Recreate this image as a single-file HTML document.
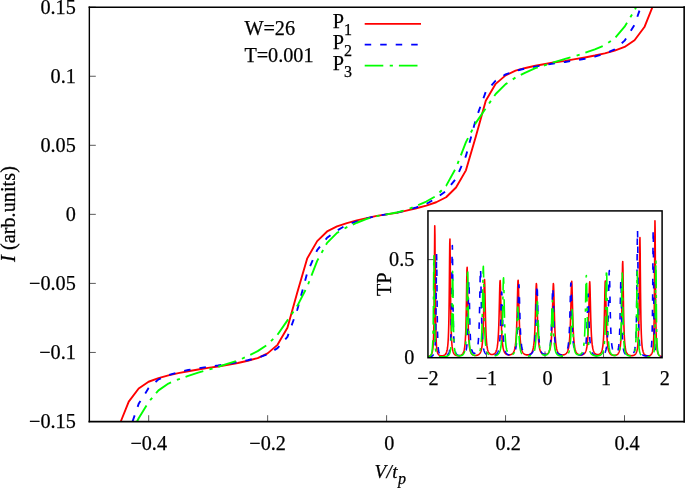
<!DOCTYPE html><html><head><meta charset="utf-8"><title>IV</title><style>html,body{margin:0;padding:0;background:#fff}svg{display:block;will-change:transform}text{font-family:"Liberation Serif",serif;font-size:20.2px;fill:#000;stroke:#000;stroke-width:0.25px}</style></head><body>
<svg width="685" height="488" viewBox="0 0 685 488">
<rect x="0" y="0" width="685" height="488" fill="#fff"/>
<defs><clipPath id="cm"><rect x="89.20" y="7.20" width="594.90" height="414.30"/></clipPath><clipPath id="ci"><rect x="427.95" y="210.90" width="234.15" height="146.80"/></clipPath></defs>
<line x1="89.20" y1="7.20" x2="95.80" y2="7.20" stroke="#000" stroke-width="0.65"/>
<text x="75.80" y="13.90" text-anchor="end" >0.15</text>
<line x1="89.20" y1="76.25" x2="95.80" y2="76.25" stroke="#000" stroke-width="0.65"/>
<text x="75.80" y="82.95" text-anchor="end" >0.1</text>
<line x1="89.20" y1="145.30" x2="95.80" y2="145.30" stroke="#000" stroke-width="0.65"/>
<text x="75.80" y="152.00" text-anchor="end" >0.05</text>
<line x1="89.20" y1="214.35" x2="95.80" y2="214.35" stroke="#000" stroke-width="0.65"/>
<text x="75.80" y="221.05" text-anchor="end" >0</text>
<line x1="89.20" y1="283.40" x2="95.80" y2="283.40" stroke="#000" stroke-width="0.65"/>
<text x="75.80" y="290.10" text-anchor="end" >−0.05</text>
<line x1="89.20" y1="352.45" x2="95.80" y2="352.45" stroke="#000" stroke-width="0.65"/>
<text x="75.80" y="359.15" text-anchor="end" >−0.1</text>
<line x1="89.20" y1="421.50" x2="95.80" y2="421.50" stroke="#000" stroke-width="0.65"/>
<text x="75.80" y="428.20" text-anchor="end" >−0.15</text>
<line x1="148.70" y1="421.50" x2="148.70" y2="415.20" stroke="#000" stroke-width="0.65"/>
<text x="148.70" y="449.50" text-anchor="middle" >−0.4</text>
<line x1="267.65" y1="421.50" x2="267.65" y2="415.20" stroke="#000" stroke-width="0.65"/>
<text x="267.65" y="449.50" text-anchor="middle" >−0.2</text>
<line x1="386.60" y1="421.50" x2="386.60" y2="415.20" stroke="#000" stroke-width="0.65"/>
<text x="389.20" y="449.50" text-anchor="middle" >0</text>
<line x1="505.55" y1="421.50" x2="505.55" y2="415.20" stroke="#000" stroke-width="0.65"/>
<text x="508.15" y="449.50" text-anchor="middle" >0.2</text>
<line x1="624.50" y1="421.50" x2="624.50" y2="415.20" stroke="#000" stroke-width="0.65"/>
<text x="627.10" y="449.50" text-anchor="middle" >0.4</text>
<g clip-path="url(#cm)" fill="none" stroke-width="1.90" stroke-linejoin="round">
<path d="M120.79,421.50 L128.76,401.65 L138.68,388.45 L148.59,381.75 L158.51,378.15 L168.43,375.35 L178.34,373.15 L188.26,371.25 L198.18,369.55 L208.09,367.85 L218.01,366.45 L227.93,364.75 L237.85,362.95 L247.76,360.75 L257.68,358.05 L267.60,353.35 L277.51,344.85 L287.43,327.85 L297.35,292.15 L307.26,258.35 L317.18,241.15 L327.10,231.45 L337.02,226.45 L346.93,223.15 L356.85,220.45 L366.77,218.05 L376.68,215.85 L386.60,214.35 L396.52,212.85 L406.43,210.65 L416.35,208.25 L426.27,205.55 L436.19,202.25 L446.10,197.25 L456.02,187.55 L465.94,170.35 L475.85,136.55 L485.77,100.85 L495.69,83.85 L505.60,75.35 L515.52,70.65 L525.44,67.95 L535.36,65.75 L545.27,63.95 L555.19,62.25 L565.11,60.85 L575.02,59.15 L584.94,57.45 L594.86,55.55 L604.77,53.35 L614.69,50.55 L624.61,46.95 L634.52,40.25 L644.44,27.05 L652.41,7.20" stroke="#ff0000"/>
<path d="M132.53,421.50 L138.68,403.85 L148.59,388.05 L158.51,379.35 L168.43,375.15 L178.34,372.15 L188.26,369.95 L198.18,368.35 L208.09,366.75 L218.01,365.45 L227.93,363.85 L237.85,362.05 L247.76,360.25 L257.68,357.85 L267.60,354.35 L277.51,348.15 L287.43,336.85 L297.35,309.55 L307.26,272.75 L317.18,250.05 L327.10,237.75 L337.02,230.55 L346.93,224.75 L356.85,221.35 L366.77,218.35 L376.68,215.95 L386.60,214.35 L396.52,212.75 L406.43,210.35 L416.35,207.35 L426.27,203.95 L436.19,198.15 L446.10,190.95 L456.02,178.65 L465.94,155.95 L475.85,119.15 L485.77,91.85 L495.69,80.55 L505.60,74.35 L515.52,70.85 L525.44,68.45 L535.36,66.65 L545.27,64.85 L555.19,63.25 L565.11,61.95 L575.02,60.35 L584.94,58.75 L594.86,56.55 L604.77,53.55 L614.69,49.35 L624.61,40.65 L634.52,24.85 L640.67,7.20" stroke="#0000ff" stroke-dasharray="6.5 9.025"/>
<path d="M137.07,421.50 L138.68,418.25 L148.59,402.05 L158.51,390.35 L168.43,383.55 L178.34,379.35 L188.26,375.85 L198.18,372.65 L208.09,369.85 L218.01,366.85 L227.93,363.65 L237.85,360.55 L247.76,356.15 L257.68,351.15 L267.60,344.55 L277.51,334.75 L287.43,320.35 L297.35,305.85 L307.26,286.55 L317.18,260.85 L327.10,242.85 L337.02,232.85 L346.93,227.15 L356.85,222.75 L366.77,218.85 L376.68,216.15 L386.60,214.35 L396.52,212.55 L406.43,209.85 L416.35,205.95 L426.27,201.55 L436.19,195.85 L446.10,185.85 L456.02,167.85 L465.94,142.15 L475.85,122.85 L485.77,108.35 L495.69,93.95 L505.60,84.15 L515.52,77.55 L525.44,72.55 L535.36,68.15 L545.27,65.05 L555.19,61.85 L565.11,58.85 L575.02,56.05 L584.94,52.85 L594.86,49.35 L604.77,45.15 L614.69,38.35 L624.61,26.65 L634.52,10.45 L636.13,7.20" stroke="#00ff00" stroke-dasharray="18.6 6.4 3.2 6"/>
</g>
<rect x="427.95" y="210.90" width="234.15" height="146.80" fill="#fff"/>
<line x1="486.46" y1="357.70" x2="486.46" y2="351.40" stroke="#000" stroke-width="0.65"/>
<line x1="545.00" y1="357.70" x2="545.00" y2="351.40" stroke="#000" stroke-width="0.65"/>
<line x1="603.54" y1="357.70" x2="603.54" y2="351.40" stroke="#000" stroke-width="0.65"/>
<line x1="427.95" y1="259.60" x2="433.95" y2="259.60" stroke="#000" stroke-width="0.65"/>
<text x="427.92" y="385.00" text-anchor="middle" >−2</text>
<text x="486.46" y="385.00" text-anchor="middle" >−1</text>
<text x="547.60" y="385.00" text-anchor="middle" >0</text>
<text x="606.14" y="385.00" text-anchor="middle" >1</text>
<text x="664.68" y="385.00" text-anchor="middle" >2</text>
<text x="414.30" y="266.30" text-anchor="end" >0.5</text>
<text x="414.30" y="364.00" text-anchor="end" >0</text>
<g clip-path="url(#ci)" fill="none" stroke-width="1.6" stroke-linejoin="round">
<path d="M427.95,356.69 L428.15,356.64 L428.35,356.59 L428.55,356.53 L428.75,356.47 L428.95,356.40 L429.15,356.32 L429.35,356.23 L429.55,356.14 L429.75,356.03 L429.95,355.91 L430.15,355.77 L430.35,355.62 L430.55,355.45 L430.75,355.25 L430.95,355.02 L431.15,354.75 L431.35,354.44 L431.55,354.07 L431.75,353.63 L431.95,353.10 L432.15,352.45 L432.35,351.64 L432.55,350.63 L432.75,349.32 L432.95,347.62 L433.15,345.34 L433.35,342.20 L433.55,337.74 L433.75,331.17 L433.95,321.15 L434.15,305.48 L434.35,281.37 L434.55,249.43 L434.75,225.70 L434.95,234.68 L435.15,265.87 L435.35,294.58 L435.55,314.14 L435.75,326.63 L435.95,334.69 L436.15,340.06 L436.35,343.78 L436.55,346.43 L436.75,348.37 L436.95,349.84 L437.15,350.96 L437.35,351.85 L437.55,352.55 L437.75,353.12 L437.95,353.58 L438.15,353.97 L438.35,354.29 L438.55,354.55 L438.75,354.78 L438.95,354.97 L439.15,355.13 L439.35,355.27 L439.55,355.39 L439.75,355.49 L439.95,355.57 L440.15,355.64 L440.35,355.70 L440.55,355.75 L440.75,355.79 L440.95,355.82 L441.15,355.84 L441.35,355.86 L441.55,355.87 L441.75,355.87 L441.95,355.86 L442.15,355.85 L442.35,355.83 L442.55,355.80 L442.75,355.77 L442.95,355.73 L443.15,355.68 L443.35,355.62 L443.55,355.56 L443.75,355.48 L443.95,355.40 L444.15,355.30 L444.35,355.19 L444.55,355.06 L444.75,354.92 L444.95,354.75 L445.15,354.57 L445.35,354.36 L445.55,354.11 L445.75,353.83 L445.95,353.51 L446.15,353.13 L446.35,352.69 L446.55,352.17 L446.75,351.56 L446.95,350.82 L447.15,349.92 L447.35,348.83 L447.55,347.48 L447.75,345.78 L447.95,343.60 L448.15,340.78 L448.35,337.04 L448.55,331.99 L448.75,325.05 L448.95,315.36 L449.15,301.86 L449.35,283.71 L449.55,262.12 L449.75,243.58 L449.95,238.96 L450.15,251.79 L450.35,273.09 L450.55,293.36 L450.75,309.14 L450.95,320.59 L451.15,328.78 L451.35,334.68 L451.55,339.01 L451.75,342.24 L451.95,344.71 L452.15,346.63 L452.35,348.14 L452.55,349.35 L452.75,350.33 L452.95,351.14 L453.15,351.80 L453.35,352.36 L453.55,352.84 L453.75,353.24 L453.95,353.59 L454.15,353.88 L454.35,354.14 L454.55,354.36 L454.75,354.56 L454.95,354.73 L455.15,354.88 L455.35,355.01 L455.55,355.12 L455.75,355.23 L455.95,355.31 L456.15,355.39 L456.35,355.46 L456.55,355.52 L456.75,355.57 L456.95,355.61 L457.15,355.65 L457.35,355.68 L457.55,355.70 L457.75,355.72 L457.95,355.73 L458.15,355.74 L458.35,355.74 L458.55,355.74 L458.75,355.73 L458.95,355.71 L459.15,355.69 L459.35,355.66 L459.55,355.63 L459.75,355.59 L459.95,355.55 L460.15,355.50 L460.35,355.44 L460.55,355.37 L460.75,355.29 L460.95,355.20 L461.15,355.10 L461.35,354.99 L461.55,354.87 L461.75,354.72 L461.95,354.56 L462.15,354.38 L462.35,354.17 L462.55,353.94 L462.75,353.67 L462.95,353.37 L463.15,353.01 L463.35,352.60 L463.55,352.13 L463.75,351.57 L463.95,350.91 L464.15,350.12 L464.35,349.17 L464.55,348.02 L464.75,346.61 L464.95,344.86 L465.15,342.65 L465.35,339.84 L465.55,336.21 L465.75,331.46 L465.95,325.21 L466.15,316.98 L466.35,306.38 L466.55,293.53 L466.75,280.00 L466.95,269.65 L467.15,267.24 L467.35,274.10 L467.55,286.65 L467.75,300.17 L467.95,311.97 L468.15,321.34 L468.35,328.52 L468.55,333.96 L468.75,338.10 L468.95,341.29 L469.15,343.77 L469.35,345.73 L469.55,347.29 L469.75,348.56 L469.95,349.59 L470.15,350.45 L470.35,351.17 L470.55,351.77 L470.75,352.28 L470.95,352.72 L471.15,353.09 L471.35,353.41 L471.55,353.69 L471.75,353.94 L471.95,354.15 L472.15,354.34 L472.35,354.50 L472.55,354.65 L472.75,354.77 L472.95,354.88 L473.15,354.98 L473.35,355.07 L473.55,355.14 L473.75,355.21 L473.95,355.26 L474.15,355.31 L474.35,355.35 L474.55,355.38 L474.75,355.41 L474.95,355.43 L475.15,355.44 L475.35,355.45 L475.55,355.45 L475.75,355.45 L475.95,355.44 L476.15,355.42 L476.35,355.40 L476.55,355.37 L476.75,355.33 L476.95,355.29 L477.15,355.24 L477.35,355.19 L477.55,355.12 L477.75,355.05 L477.95,354.97 L478.15,354.87 L478.35,354.77 L478.55,354.65 L478.75,354.51 L478.95,354.36 L479.15,354.20 L479.35,354.01 L479.55,353.79 L479.75,353.55 L479.95,353.28 L480.15,352.97 L480.35,352.61 L480.55,352.20 L480.75,351.73 L480.95,351.18 L481.15,350.54 L481.35,349.79 L481.55,348.90 L481.75,347.84 L481.95,346.56 L482.15,345.01 L482.35,343.11 L482.55,340.76 L482.75,337.82 L482.95,334.11 L483.15,329.43 L483.35,323.52 L483.55,316.15 L483.75,307.28 L483.95,297.38 L484.15,287.83 L484.35,281.07 L484.55,279.56 L484.75,283.92 L484.95,292.40 L485.15,302.36 L485.35,311.84 L485.55,319.97 L485.75,326.57 L485.95,331.83 L486.15,335.98 L486.35,339.26 L486.55,341.88 L486.75,343.98 L486.95,345.68 L487.15,347.07 L487.35,348.22 L487.55,349.18 L487.75,349.98 L487.95,350.66 L488.15,351.23 L488.35,351.73 L488.55,352.15 L488.75,352.51 L488.95,352.83 L489.15,353.10 L489.35,353.34 L489.55,353.55 L489.75,353.73 L489.95,353.88 L490.15,354.02 L490.35,354.13 L490.55,354.23 L490.75,354.31 L490.95,354.38 L491.15,354.44 L491.35,354.49 L491.55,354.52 L491.75,354.54 L491.95,354.55 L492.15,354.55 L492.35,354.54 L492.55,354.52 L492.75,354.49 L492.95,354.45 L493.15,354.39 L493.35,354.33 L493.55,354.25 L493.75,354.15 L493.95,354.05 L494.15,353.92 L494.35,353.78 L494.55,353.62 L494.75,353.44 L494.95,353.23 L495.15,352.99 L495.35,352.71 L495.55,352.41 L495.75,352.05 L495.95,351.65 L496.15,351.18 L496.35,350.64 L496.55,350.01 L496.75,349.28 L496.95,348.43 L497.15,347.42 L497.35,346.22 L497.55,344.78 L497.75,343.04 L497.95,340.93 L498.15,338.34 L498.35,335.16 L498.55,331.21 L498.75,326.32 L498.95,320.31 L499.15,313.05 L499.35,304.66 L499.55,295.70 L499.75,287.45 L499.95,281.82 L500.15,280.58 L500.35,284.18 L500.55,291.38 L500.75,300.20 L500.95,308.99 L501.15,316.85 L501.35,323.48 L501.55,328.91 L501.75,333.31 L501.95,336.85 L502.15,339.72 L502.35,342.06 L502.55,343.98 L502.75,345.56 L502.95,346.87 L503.15,347.98 L503.35,348.91 L503.55,349.70 L503.75,350.38 L503.95,350.97 L504.15,351.47 L504.35,351.91 L504.55,352.30 L504.75,352.63 L504.95,352.93 L505.15,353.19 L505.35,353.42 L505.55,353.63 L505.75,353.81 L505.95,353.97 L506.15,354.11 L506.35,354.24 L506.55,354.35 L506.75,354.45 L506.95,354.54 L507.15,354.62 L507.35,354.68 L507.55,354.74 L507.75,354.79 L507.95,354.83 L508.15,354.86 L508.35,354.89 L508.55,354.90 L508.75,354.91 L508.95,354.92 L509.15,354.91 L509.35,354.91 L509.55,354.89 L509.75,354.86 L509.95,354.83 L510.15,354.79 L510.35,354.75 L510.55,354.69 L510.75,354.63 L510.95,354.56 L511.15,354.47 L511.35,354.38 L511.55,354.27 L511.75,354.15 L511.95,354.02 L512.15,353.86 L512.35,353.69 L512.55,353.50 L512.75,353.29 L512.95,353.05 L513.15,352.78 L513.35,352.47 L513.55,352.13 L513.75,351.73 L513.95,351.28 L514.15,350.77 L514.35,350.18 L514.55,349.50 L514.75,348.70 L514.95,347.78 L515.15,346.68 L515.35,345.39 L515.55,343.85 L515.75,342.00 L515.95,339.75 L516.15,337.03 L516.35,333.69 L516.55,329.58 L516.75,324.56 L516.95,318.46 L517.15,311.21 L517.35,302.98 L517.55,294.36 L517.75,286.57 L517.95,281.35 L518.15,280.21 L518.35,283.53 L518.55,290.26 L518.75,298.66 L518.95,307.19 L519.15,314.97 L519.35,321.65 L519.55,327.20 L519.75,331.74 L519.95,335.44 L520.15,338.45 L520.35,340.92 L520.55,342.96 L520.75,344.65 L520.95,346.06 L521.15,347.25 L521.35,348.25 L521.55,349.11 L521.75,349.84 L521.95,350.48 L522.15,351.03 L522.35,351.51 L522.55,351.93 L522.75,352.30 L522.95,352.62 L523.15,352.91 L523.35,353.17 L523.55,353.39 L523.75,353.59 L523.95,353.77 L524.15,353.93 L524.35,354.08 L524.55,354.20 L524.75,354.32 L524.95,354.42 L525.15,354.51 L525.35,354.59 L525.55,354.66 L525.75,354.72 L525.95,354.77 L526.15,354.81 L526.35,354.85 L526.55,354.88 L526.75,354.90 L526.95,354.91 L527.15,354.92 L527.35,354.92 L527.55,354.92 L527.75,354.91 L527.95,354.89 L528.15,354.87 L528.35,354.83 L528.55,354.79 L528.75,354.75 L528.95,354.69 L529.15,354.63 L529.35,354.55 L529.55,354.47 L529.75,354.37 L529.95,354.27 L530.15,354.15 L530.35,354.01 L530.55,353.86 L530.75,353.69 L530.95,353.50 L531.15,353.28 L531.35,353.04 L531.55,352.76 L531.75,352.45 L531.95,352.10 L532.15,351.70 L532.35,351.24 L532.55,350.72 L532.75,350.11 L532.95,349.41 L533.15,348.59 L533.35,347.63 L533.55,346.50 L533.75,345.15 L533.95,343.54 L534.15,341.60 L534.35,339.24 L534.55,336.36 L534.75,332.82 L534.95,328.49 L535.15,323.19 L535.35,316.82 L535.55,309.39 L535.75,301.24 L535.95,293.23 L536.15,286.80 L536.35,283.63 L536.55,284.72 L536.75,289.71 L536.95,297.13 L537.15,305.36 L537.35,313.21 L537.55,320.13 L537.75,325.95 L537.95,330.74 L538.15,334.65 L538.35,337.84 L538.55,340.44 L538.75,342.58 L538.95,344.34 L539.15,345.81 L539.35,347.04 L539.55,348.08 L539.75,348.96 L539.95,349.72 L540.15,350.36 L540.35,350.92 L540.55,351.41 L540.75,351.83 L540.95,352.20 L541.15,352.53 L541.35,352.81 L541.55,353.06 L541.75,353.29 L541.95,353.48 L542.15,353.66 L542.35,353.81 L542.55,353.95 L542.75,354.07 L542.95,354.17 L543.15,354.26 L543.35,354.34 L543.55,354.41 L543.75,354.47 L543.95,354.51 L544.15,354.55 L544.35,354.58 L544.55,354.60 L544.75,354.61 L544.95,354.61 L545.15,354.60 L545.35,354.59 L545.55,354.56 L545.75,354.53 L545.95,354.49 L546.15,354.44 L546.35,354.38 L546.55,354.30 L546.75,354.22 L546.95,354.12 L547.15,354.01 L547.35,353.88 L547.55,353.74 L547.75,353.57 L547.95,353.39 L548.15,353.18 L548.35,352.94 L548.55,352.67 L548.75,352.37 L548.95,352.02 L549.15,351.63 L549.35,351.18 L549.55,350.65 L549.75,350.05 L549.95,349.36 L550.15,348.54 L550.35,347.58 L550.55,346.46 L550.75,345.11 L550.95,343.50 L551.15,341.56 L551.35,339.21 L551.55,336.33 L551.75,332.80 L551.95,328.47 L552.15,323.18 L552.35,316.81 L552.55,309.38 L552.75,301.24 L552.95,293.23 L553.15,286.80 L553.35,283.64 L553.55,284.73 L553.75,289.71 L553.95,297.15 L554.15,305.37 L554.35,313.23 L554.55,320.15 L554.75,325.97 L554.95,330.77 L555.15,334.69 L555.35,337.87 L555.55,340.48 L555.75,342.62 L555.95,344.39 L556.15,345.86 L556.35,347.09 L556.55,348.14 L556.75,349.02 L556.95,349.78 L557.15,350.43 L557.35,351.00 L557.55,351.49 L557.75,351.91 L557.95,352.29 L558.15,352.62 L558.35,352.91 L558.55,353.17 L558.75,353.40 L558.95,353.60 L559.15,353.78 L559.35,353.95 L559.55,354.09 L559.75,354.22 L559.95,354.33 L560.15,354.43 L560.35,354.52 L560.55,354.60 L560.75,354.67 L560.95,354.73 L561.15,354.78 L561.35,354.83 L561.55,354.86 L561.75,354.89 L561.95,354.92 L562.15,354.93 L562.35,354.94 L562.55,354.94 L562.75,354.94 L562.95,354.93 L563.15,354.91 L563.35,354.88 L563.55,354.85 L563.75,354.81 L563.95,354.77 L564.15,354.71 L564.35,354.65 L564.55,354.58 L564.75,354.50 L564.95,354.40 L565.15,354.30 L565.35,354.18 L565.55,354.05 L565.75,353.90 L565.95,353.73 L566.15,353.54 L566.35,353.33 L566.55,353.10 L566.75,352.83 L566.95,352.53 L567.15,352.19 L567.35,351.80 L567.55,351.36 L567.75,350.85 L567.95,350.27 L568.15,349.60 L568.35,348.82 L568.55,347.90 L568.75,346.83 L568.95,345.55 L569.15,344.03 L569.35,342.21 L569.55,340.00 L569.75,337.31 L569.95,334.02 L570.15,329.98 L570.35,325.02 L570.55,319.01 L570.75,311.87 L570.95,303.75 L571.15,295.26 L571.35,287.58 L571.55,282.43 L571.75,281.31 L571.95,284.58 L572.15,291.22 L572.35,299.49 L572.55,307.91 L572.75,315.58 L572.95,322.16 L573.15,327.63 L573.35,332.10 L573.55,335.75 L573.75,338.73 L573.95,341.16 L574.15,343.17 L574.35,344.83 L574.55,346.22 L574.75,347.40 L574.95,348.39 L575.15,349.23 L575.35,349.96 L575.55,350.58 L575.75,351.13 L575.95,351.60 L576.15,352.01 L576.35,352.38 L576.55,352.70 L576.75,352.98 L576.95,353.23 L577.15,353.46 L577.35,353.65 L577.55,353.83 L577.75,353.99 L577.95,354.13 L578.15,354.26 L578.35,354.37 L578.55,354.47 L578.75,354.56 L578.95,354.63 L579.15,354.70 L579.35,354.76 L579.55,354.81 L579.75,354.85 L579.95,354.89 L580.15,354.91 L580.35,354.93 L580.55,354.95 L580.75,354.95 L580.95,354.95 L581.15,354.95 L581.35,354.93 L581.55,354.91 L581.75,354.88 L581.95,354.85 L582.15,354.80 L582.35,354.75 L582.55,354.69 L582.75,354.62 L582.95,354.54 L583.15,354.45 L583.35,354.35 L583.55,354.23 L583.75,354.10 L583.95,353.95 L584.15,353.78 L584.35,353.59 L584.55,353.38 L584.75,353.13 L584.95,352.86 L585.15,352.55 L585.35,352.20 L585.55,351.79 L585.75,351.33 L585.95,350.80 L586.15,350.18 L586.35,349.46 L586.55,348.61 L586.75,347.61 L586.95,346.43 L587.15,345.01 L587.35,343.30 L587.55,341.23 L587.75,338.68 L587.95,335.55 L588.15,331.67 L588.35,326.86 L588.55,320.94 L588.75,313.81 L588.95,305.56 L589.15,296.75 L589.35,288.64 L589.55,283.10 L589.75,281.89 L589.95,285.42 L590.15,292.49 L590.35,301.16 L590.55,309.80 L590.75,317.52 L590.95,324.04 L591.15,329.38 L591.35,333.70 L591.55,337.18 L591.75,340.00 L591.95,342.30 L592.15,344.18 L592.35,345.73 L592.55,347.02 L592.75,348.10 L592.95,349.01 L593.15,349.79 L593.35,350.45 L593.55,351.02 L593.75,351.52 L593.95,351.94 L594.15,352.32 L594.35,352.64 L594.55,352.93 L594.75,353.18 L594.95,353.40 L595.15,353.59 L595.35,353.76 L595.55,353.91 L595.75,354.04 L595.95,354.15 L596.15,354.25 L596.35,354.34 L596.55,354.41 L596.75,354.47 L596.95,354.51 L597.15,354.55 L597.35,354.57 L597.55,354.59 L597.75,354.59 L597.95,354.59 L598.15,354.57 L598.35,354.55 L598.55,354.51 L598.75,354.46 L598.95,354.40 L599.15,354.32 L599.35,354.23 L599.55,354.13 L599.75,354.00 L599.95,353.86 L600.15,353.70 L600.35,353.51 L600.55,353.29 L600.75,353.04 L600.95,352.75 L601.15,352.42 L601.35,352.03 L601.55,351.58 L601.75,351.06 L601.95,350.45 L602.15,349.73 L602.35,348.87 L602.55,347.84 L602.75,346.60 L602.95,345.09 L603.15,343.23 L603.35,340.93 L603.55,338.06 L603.75,334.43 L603.95,329.85 L604.15,324.05 L604.35,316.83 L604.55,308.13 L604.75,298.41 L604.95,289.05 L605.15,282.43 L605.35,280.95 L605.55,285.24 L605.75,293.58 L605.95,303.37 L606.15,312.69 L606.35,320.68 L606.55,327.18 L606.75,332.35 L606.95,336.44 L607.15,339.67 L607.35,342.25 L607.55,344.33 L607.75,346.01 L607.95,347.39 L608.15,348.53 L608.35,349.48 L608.55,350.29 L608.75,350.96 L608.95,351.54 L609.15,352.04 L609.35,352.47 L609.55,352.85 L609.75,353.17 L609.95,353.46 L610.15,353.71 L610.35,353.93 L610.55,354.13 L610.75,354.30 L610.95,354.46 L611.15,354.59 L611.35,354.72 L611.55,354.82 L611.75,354.92 L611.95,355.01 L612.15,355.08 L612.35,355.15 L612.55,355.20 L612.75,355.25 L612.95,355.30 L613.15,355.33 L613.35,355.36 L613.55,355.38 L613.75,355.40 L613.95,355.41 L614.15,355.41 L614.35,355.41 L614.55,355.40 L614.75,355.39 L614.95,355.37 L615.15,355.34 L615.35,355.31 L615.55,355.27 L615.75,355.22 L615.95,355.16 L616.15,355.09 L616.35,355.02 L616.55,354.93 L616.75,354.83 L616.95,354.72 L617.15,354.59 L617.35,354.44 L617.55,354.28 L617.75,354.09 L617.95,353.88 L618.15,353.63 L618.35,353.35 L618.55,353.03 L618.75,352.66 L618.95,352.23 L619.15,351.73 L619.35,351.14 L619.55,350.44 L619.75,349.60 L619.95,348.60 L620.15,347.38 L620.35,345.89 L620.55,344.02 L620.75,341.68 L620.95,338.69 L621.15,334.83 L621.35,329.79 L621.55,323.13 L621.75,314.38 L621.95,303.10 L622.15,289.43 L622.35,275.03 L622.55,264.03 L622.75,261.47 L622.95,268.77 L623.15,282.13 L623.35,296.53 L623.55,309.09 L623.75,319.08 L623.95,326.72 L624.15,332.51 L624.35,336.93 L624.55,340.32 L624.75,342.97 L624.95,345.06 L625.15,346.73 L625.35,348.08 L625.55,349.19 L625.75,350.11 L625.95,350.88 L626.15,351.53 L626.35,352.08 L626.55,352.55 L626.75,352.95 L626.95,353.30 L627.15,353.61 L627.35,353.87 L627.55,354.11 L627.75,354.31 L627.95,354.49 L628.15,354.66 L628.35,354.80 L628.55,354.93 L628.75,355.04 L628.95,355.14 L629.15,355.23 L629.35,355.31 L629.55,355.37 L629.75,355.44 L629.95,355.49 L630.15,355.53 L630.35,355.57 L630.55,355.61 L630.75,355.63 L630.95,355.65 L631.15,355.67 L631.35,355.68 L631.55,355.68 L631.75,355.68 L631.95,355.67 L632.15,355.66 L632.35,355.64 L632.55,355.61 L632.75,355.58 L632.95,355.54 L633.15,355.49 L633.35,355.44 L633.55,355.38 L633.75,355.30 L633.95,355.22 L634.15,355.13 L634.35,355.02 L634.55,354.89 L634.75,354.75 L634.95,354.59 L635.15,354.41 L635.35,354.20 L635.55,353.96 L635.75,353.68 L635.95,353.36 L636.15,352.98 L636.35,352.54 L636.55,352.02 L636.75,351.40 L636.95,350.66 L637.15,349.76 L637.35,348.66 L637.55,347.30 L637.75,345.58 L637.95,343.39 L638.15,340.54 L638.35,336.77 L638.55,331.67 L638.75,324.65 L638.95,314.86 L639.15,301.22 L639.35,282.88 L639.55,261.06 L639.75,242.31 L639.95,237.65 L640.15,250.63 L640.35,272.16 L640.55,292.65 L640.75,308.61 L640.95,320.19 L641.15,328.48 L641.35,334.45 L641.55,338.83 L641.75,342.11 L641.95,344.60 L642.15,346.54 L642.35,348.08 L642.55,349.30 L642.75,350.30 L642.95,351.12 L643.15,351.80 L643.35,352.37 L643.55,352.86 L643.75,353.27 L643.95,353.62 L644.15,353.92 L644.35,354.19 L644.55,354.42 L644.75,354.62 L644.95,354.79 L645.15,354.95 L645.35,355.08 L645.55,355.20 L645.75,355.31 L645.95,355.40 L646.15,355.48 L646.35,355.55 L646.55,355.62 L646.75,355.67 L646.95,355.71 L647.15,355.75 L647.35,355.78 L647.55,355.80 L647.75,355.81 L647.95,355.82 L648.15,355.82 L648.35,355.82 L648.55,355.81 L648.75,355.79 L648.95,355.76 L649.15,355.72 L649.35,355.67 L649.55,355.62 L649.75,355.55 L649.95,355.47 L650.15,355.37 L650.35,355.26 L650.55,355.13 L650.75,354.97 L650.95,354.79 L651.15,354.57 L651.35,354.32 L651.55,354.02 L651.75,353.65 L651.95,353.22 L652.15,352.69 L652.35,352.03 L652.55,351.21 L652.75,350.18 L652.95,348.85 L653.15,347.10 L653.35,344.76 L653.55,341.52 L653.75,336.91 L653.95,330.11 L654.15,319.74 L654.35,303.51 L654.55,278.52 L654.75,245.42 L654.95,220.84 L655.15,230.16 L655.35,262.52 L655.55,292.31 L655.75,312.60 L655.95,325.57 L656.15,333.94 L656.35,339.54 L656.55,343.40 L656.75,346.17 L656.95,348.20 L657.15,349.74 L657.35,350.93 L657.55,351.86 L657.75,352.61 L657.95,353.22 L658.15,353.72 L658.35,354.14 L658.55,354.49 L658.75,354.79 L658.95,355.05 L659.15,355.27 L659.35,355.47 L659.55,355.63 L659.75,355.78 L659.95,355.91 L660.15,356.03 L660.35,356.14 L660.55,356.23 L660.75,356.32 L660.95,356.39 L661.15,356.46 L661.35,356.53 L661.55,356.58 L661.75,356.64 L661.95,356.69" stroke="#ff0000"/>
<path d="M427.95,357.11 L428.15,357.09 L428.35,357.07 L428.55,357.05 L428.75,357.02 L428.95,356.99 L429.15,356.97 L429.35,356.93 L429.55,356.90 L429.75,356.86 L429.95,356.83 L430.15,356.78 L430.35,356.74 L430.55,356.68 L430.75,356.63 L430.95,356.57 L431.15,356.50 L431.35,356.42 L431.55,356.34 L431.75,356.24 L431.95,356.14 L432.15,356.01 L432.35,355.88 L432.55,355.72 L432.75,355.54 L432.95,355.32 L433.15,355.08 L433.35,354.78 L433.55,354.44 L433.75,354.01 L433.95,353.50 L434.15,352.86 L434.35,352.06 L434.55,351.03 L434.75,349.69 L434.95,347.89 L435.15,345.41 L435.35,341.88 L435.55,336.69 L435.75,328.77 L435.95,316.40 L436.15,297.35 L436.35,272.12 L436.55,253.38 L436.75,260.47 L436.95,285.11 L437.15,307.78 L437.35,323.23 L437.55,333.09 L437.75,339.46 L437.95,343.71 L438.15,346.64 L438.35,348.73 L438.55,350.27 L438.75,351.42 L438.95,352.31 L439.15,353.01 L439.35,353.57 L439.55,354.02 L439.75,354.38 L439.95,354.68 L440.15,354.93 L440.35,355.14 L440.55,355.32 L440.75,355.47 L440.95,355.60 L441.15,355.71 L441.35,355.80 L441.55,355.88 L441.75,355.94 L441.95,356.00 L442.15,356.04 L442.35,356.08 L442.55,356.11 L442.75,356.14 L442.95,356.16 L443.15,356.17 L443.35,356.17 L443.55,356.18 L443.75,356.17 L443.95,356.16 L444.15,356.15 L444.35,356.13 L444.55,356.11 L444.75,356.08 L444.95,356.04 L445.15,356.00 L445.35,355.95 L445.55,355.90 L445.75,355.84 L445.95,355.77 L446.15,355.69 L446.35,355.60 L446.55,355.51 L446.75,355.39 L446.95,355.27 L447.15,355.13 L447.35,354.97 L447.55,354.79 L447.75,354.59 L447.95,354.35 L448.15,354.08 L448.35,353.77 L448.55,353.41 L448.75,353.00 L448.95,352.50 L449.15,351.92 L449.35,351.22 L449.55,350.37 L449.75,349.33 L449.95,348.05 L450.15,346.44 L450.35,344.38 L450.55,341.71 L450.75,338.18 L450.95,333.40 L451.15,326.84 L451.35,317.68 L451.55,304.91 L451.75,287.75 L451.95,267.34 L452.15,249.81 L452.35,245.45 L452.55,257.58 L452.75,277.71 L452.95,296.86 L453.15,311.78 L453.35,322.60 L453.55,330.34 L453.75,335.91 L453.95,340.00 L454.15,343.06 L454.35,345.39 L454.55,347.20 L454.75,348.63 L454.95,349.77 L455.15,350.70 L455.35,351.46 L455.55,352.09 L455.75,352.61 L455.95,353.06 L456.15,353.44 L456.35,353.76 L456.55,354.04 L456.75,354.28 L456.95,354.49 L457.15,354.67 L457.35,354.83 L457.55,354.97 L457.75,355.09 L457.95,355.19 L458.15,355.29 L458.35,355.37 L458.55,355.44 L458.75,355.50 L458.95,355.55 L459.15,355.59 L459.35,355.63 L459.55,355.66 L459.75,355.68 L459.95,355.70 L460.15,355.71 L460.35,355.72 L460.55,355.72 L460.75,355.71 L460.95,355.70 L461.15,355.68 L461.35,355.66 L461.55,355.63 L461.75,355.59 L461.95,355.55 L462.15,355.50 L462.35,355.45 L462.55,355.38 L462.75,355.31 L462.95,355.22 L463.15,355.13 L463.35,355.02 L463.55,354.90 L463.75,354.76 L463.95,354.60 L464.15,354.42 L464.35,354.22 L464.55,353.99 L464.75,353.72 L464.95,353.42 L465.15,353.07 L465.35,352.66 L465.55,352.17 L465.75,351.60 L465.95,350.93 L466.15,350.11 L466.35,349.13 L466.55,347.92 L466.75,346.42 L466.95,344.53 L467.15,342.13 L467.35,339.03 L467.55,334.98 L467.75,329.64 L467.95,322.63 L468.15,313.59 L468.35,302.64 L468.55,291.10 L468.75,282.28 L468.95,280.21 L469.15,286.04 L469.35,296.70 L469.55,308.19 L469.75,318.21 L469.95,326.17 L470.15,332.26 L470.35,336.86 L470.55,340.36 L470.75,343.04 L470.95,345.12 L471.15,346.76 L471.35,348.05 L471.55,349.09 L471.75,349.94 L471.95,350.62 L472.15,351.18 L472.35,351.64 L472.55,352.02 L472.75,352.33 L472.95,352.59 L473.15,352.79 L473.35,352.95 L473.55,353.08 L473.75,353.17 L473.95,353.23 L474.15,353.25 L474.35,353.25 L474.55,353.23 L474.75,353.17 L474.95,353.09 L475.15,352.98 L475.35,352.83 L475.55,352.65 L475.75,352.44 L475.95,352.18 L476.15,351.88 L476.35,351.52 L476.55,351.09 L476.75,350.60 L476.95,350.01 L477.15,349.32 L477.35,348.49 L477.55,347.51 L477.75,346.33 L477.95,344.90 L478.15,343.16 L478.35,341.02 L478.55,338.37 L478.75,335.04 L478.95,330.85 L479.15,325.55 L479.35,318.83 L479.55,310.47 L479.75,300.39 L479.95,289.14 L480.15,278.29 L480.35,270.62 L480.55,268.91 L480.75,273.89 L480.95,283.56 L481.15,294.92 L481.35,305.72 L481.55,314.98 L481.75,322.52 L481.95,328.52 L482.15,333.26 L482.35,337.01 L482.55,340.01 L482.75,342.42 L482.95,344.37 L483.15,345.98 L483.35,347.30 L483.55,348.41 L483.75,349.35 L483.95,350.14 L484.15,350.82 L484.35,351.40 L484.55,351.91 L484.75,352.35 L484.95,352.73 L485.15,353.07 L485.35,353.37 L485.55,353.63 L485.75,353.87 L485.95,354.08 L486.15,354.27 L486.35,354.44 L486.55,354.59 L486.75,354.73 L486.95,354.86 L487.15,354.97 L487.35,355.07 L487.55,355.16 L487.75,355.25 L487.95,355.32 L488.15,355.39 L488.35,355.45 L488.55,355.51 L488.75,355.56 L488.95,355.61 L489.15,355.65 L489.35,355.68 L489.55,355.71 L489.75,355.74 L489.95,355.77 L490.15,355.79 L490.35,355.81 L490.55,355.82 L490.75,355.83 L490.95,355.84 L491.15,355.84 L491.35,355.84 L491.55,355.84 L491.75,355.83 L491.95,355.82 L492.15,355.81 L492.35,355.80 L492.55,355.78 L492.75,355.76 L492.95,355.73 L493.15,355.70 L493.35,355.66 L493.55,355.62 L493.75,355.58 L493.95,355.53 L494.15,355.47 L494.35,355.41 L494.55,355.35 L494.75,355.27 L494.95,355.19 L495.15,355.09 L495.35,354.99 L495.55,354.88 L495.75,354.75 L495.95,354.61 L496.15,354.46 L496.35,354.28 L496.55,354.09 L496.75,353.87 L496.95,353.63 L497.15,353.35 L497.35,353.04 L497.55,352.68 L497.75,352.27 L497.95,351.80 L498.15,351.26 L498.35,350.63 L498.55,349.89 L498.75,349.02 L498.95,347.99 L499.15,346.75 L499.35,345.27 L499.55,343.46 L499.75,341.25 L499.95,338.53 L500.15,335.16 L500.35,330.99 L500.55,325.86 L500.75,319.67 L500.95,312.52 L501.15,304.87 L501.35,297.83 L501.55,293.03 L501.75,291.98 L501.95,295.03 L502.15,301.17 L502.35,308.68 L502.55,316.16 L502.75,322.85 L502.95,328.50 L503.15,333.12 L503.35,336.86 L503.55,339.88 L503.75,342.32 L503.95,344.31 L504.15,345.94 L504.35,347.28 L504.55,348.40 L504.75,349.33 L504.95,350.12 L505.15,350.79 L505.35,351.37 L505.55,351.86 L505.75,352.28 L505.95,352.65 L506.15,352.97 L506.35,353.26 L506.55,353.50 L506.75,353.72 L506.95,353.91 L507.15,354.08 L507.35,354.22 L507.55,354.35 L507.75,354.47 L507.95,354.57 L508.15,354.65 L508.35,354.73 L508.55,354.79 L508.75,354.85 L508.95,354.89 L509.15,354.93 L509.35,354.96 L509.55,354.98 L509.75,354.99 L509.95,354.99 L510.15,354.99 L510.35,354.98 L510.55,354.97 L510.75,354.94 L510.95,354.91 L511.15,354.87 L511.35,354.82 L511.55,354.77 L511.75,354.70 L511.95,354.62 L512.15,354.54 L512.35,354.44 L512.55,354.33 L512.75,354.20 L512.95,354.06 L513.15,353.90 L513.35,353.73 L513.55,353.53 L513.75,353.30 L513.95,353.05 L514.15,352.76 L514.35,352.43 L514.55,352.06 L514.75,351.64 L514.95,351.16 L515.15,350.60 L515.35,349.96 L515.55,349.21 L515.75,348.34 L515.95,347.31 L516.15,346.09 L516.35,344.64 L516.55,342.90 L516.75,340.79 L516.95,338.22 L517.15,335.07 L517.35,331.21 L517.55,326.48 L517.75,320.74 L517.95,313.92 L518.15,306.17 L518.35,298.05 L518.55,290.72 L518.75,285.80 L518.95,284.73 L519.15,287.85 L519.35,294.19 L519.55,302.09 L519.75,310.13 L519.95,317.45 L520.15,323.73 L520.35,328.96 L520.55,333.23 L520.75,336.71 L520.95,339.55 L521.15,341.88 L521.35,343.79 L521.55,345.38 L521.75,346.71 L521.95,347.82 L522.15,348.77 L522.35,349.58 L522.55,350.27 L522.75,350.86 L522.95,351.38 L523.15,351.83 L523.35,352.22 L523.55,352.57 L523.75,352.87 L523.95,353.14 L524.15,353.38 L524.35,353.59 L524.55,353.78 L524.75,353.95 L524.95,354.10 L525.15,354.23 L525.35,354.35 L525.55,354.45 L525.75,354.54 L525.95,354.62 L526.15,354.69 L526.35,354.76 L526.55,354.81 L526.75,354.85 L526.95,354.89 L527.15,354.92 L527.35,354.94 L527.55,354.96 L527.75,354.97 L527.95,354.97 L528.15,354.97 L528.35,354.96 L528.55,354.94 L528.75,354.91 L528.95,354.88 L529.15,354.84 L529.35,354.80 L529.55,354.74 L529.75,354.68 L529.95,354.60 L530.15,354.52 L530.35,354.43 L530.55,354.32 L530.75,354.20 L530.95,354.07 L531.15,353.92 L531.35,353.75 L531.55,353.56 L531.75,353.34 L531.95,353.10 L532.15,352.83 L532.35,352.53 L532.55,352.18 L532.75,351.78 L532.95,351.33 L533.15,350.81 L533.35,350.21 L533.55,349.52 L533.75,348.71 L533.95,347.76 L534.15,346.64 L534.35,345.32 L534.55,343.72 L534.75,341.81 L534.95,339.48 L535.15,336.64 L535.35,333.15 L535.55,328.87 L535.75,323.65 L535.95,317.36 L536.15,310.03 L536.35,301.99 L536.55,294.09 L536.75,287.75 L536.95,284.62 L537.15,285.69 L537.35,290.60 L537.55,297.93 L537.75,306.04 L537.95,313.79 L538.15,320.60 L538.35,326.34 L538.55,331.07 L538.75,334.92 L538.95,338.06 L539.15,340.63 L539.35,342.73 L539.55,344.47 L539.75,345.91 L539.95,347.12 L540.15,348.14 L540.35,349.01 L540.55,349.75 L540.75,350.38 L540.95,350.93 L541.15,351.40 L541.35,351.81 L541.55,352.17 L541.75,352.49 L541.95,352.76 L542.15,353.00 L542.35,353.22 L542.55,353.40 L542.75,353.56 L542.95,353.71 L543.15,353.83 L543.35,353.94 L543.55,354.03 L543.75,354.10 L543.95,354.17 L544.15,354.22 L544.35,354.26 L544.55,354.28 L544.75,354.30 L544.95,354.31 L545.15,354.30 L545.35,354.28 L545.55,354.26 L545.75,354.22 L545.95,354.17 L546.15,354.10 L546.35,354.03 L546.55,353.93 L546.75,353.83 L546.95,353.70 L547.15,353.56 L547.35,353.39 L547.55,353.20 L547.75,352.99 L547.95,352.74 L548.15,352.46 L548.35,352.14 L548.55,351.77 L548.75,351.35 L548.95,350.86 L549.15,350.30 L549.35,349.64 L549.55,348.87 L549.75,347.97 L549.95,346.90 L550.15,345.63 L550.35,344.10 L550.55,342.27 L550.75,340.03 L550.95,337.31 L551.15,333.96 L551.35,329.85 L551.55,324.82 L551.75,318.78 L551.95,311.73 L552.15,304.00 L552.35,296.40 L552.55,290.30 L552.75,287.29 L552.95,288.33 L553.15,293.07 L553.35,300.13 L553.55,307.94 L553.75,315.40 L553.95,321.97 L554.15,327.50 L554.35,332.06 L554.55,335.78 L554.75,338.81 L554.95,341.28 L555.15,343.31 L555.35,344.99 L555.55,346.39 L555.75,347.57 L555.95,348.56 L556.15,349.40 L556.35,350.12 L556.55,350.74 L556.75,351.27 L556.95,351.74 L557.15,352.15 L557.35,352.50 L557.55,352.82 L557.75,353.09 L557.95,353.34 L558.15,353.55 L558.35,353.75 L558.55,353.92 L558.75,354.07 L558.95,354.21 L559.15,354.33 L559.35,354.43 L559.55,354.53 L559.75,354.61 L559.95,354.69 L560.15,354.75 L560.35,354.81 L560.55,354.85 L560.75,354.89 L560.95,354.92 L561.15,354.95 L561.35,354.97 L561.55,354.98 L561.75,354.98 L561.95,354.98 L562.15,354.97 L562.35,354.96 L562.55,354.93 L562.75,354.91 L562.95,354.87 L563.15,354.82 L563.35,354.77 L563.55,354.71 L563.75,354.64 L563.95,354.56 L564.15,354.47 L564.35,354.37 L564.55,354.26 L564.75,354.13 L564.95,353.98 L565.15,353.82 L565.35,353.64 L565.55,353.43 L565.75,353.20 L565.95,352.94 L566.15,352.65 L566.35,352.31 L566.55,351.94 L566.75,351.50 L566.95,351.01 L567.15,350.44 L567.35,349.78 L567.55,349.02 L567.75,348.12 L567.95,347.07 L568.15,345.82 L568.35,344.34 L568.55,342.55 L568.75,340.39 L568.95,337.76 L569.15,334.53 L569.35,330.58 L569.55,325.73 L569.75,319.84 L569.95,312.85 L570.15,304.91 L570.35,296.60 L570.55,289.09 L570.75,284.05 L570.95,282.95 L571.15,286.15 L571.35,292.65 L571.55,300.75 L571.75,308.99 L571.95,316.49 L572.15,322.93 L572.35,328.29 L572.55,332.67 L572.75,336.24 L572.95,339.15 L573.15,341.54 L573.35,343.50 L573.55,345.13 L573.75,346.49 L573.95,347.64 L574.15,348.61 L574.35,349.44 L574.55,350.15 L574.75,350.76 L574.95,351.29 L575.15,351.76 L575.35,352.16 L575.55,352.52 L575.75,352.83 L575.95,353.11 L576.15,353.35 L576.35,353.57 L576.55,353.77 L576.75,353.94 L576.95,354.09 L577.15,354.23 L577.35,354.35 L577.55,354.46 L577.75,354.56 L577.95,354.64 L578.15,354.72 L578.35,354.78 L578.55,354.84 L578.75,354.88 L578.95,354.92 L579.15,354.95 L579.35,354.98 L579.55,354.99 L579.75,355.00 L579.95,355.00 L580.15,355.00 L580.35,354.98 L580.55,354.96 L580.75,354.93 L580.95,354.89 L581.15,354.85 L581.35,354.79 L581.55,354.73 L581.75,354.65 L581.95,354.56 L582.15,354.46 L582.35,354.34 L582.55,354.21 L582.75,354.06 L582.95,353.89 L583.15,353.69 L583.35,353.47 L583.55,353.22 L583.75,352.93 L583.95,352.59 L584.15,352.21 L584.35,351.77 L584.55,351.25 L584.75,350.65 L584.95,349.95 L585.15,349.12 L585.35,348.13 L585.55,346.94 L585.75,345.51 L585.95,343.77 L586.15,341.64 L586.35,339.01 L586.55,335.75 L586.75,331.72 L586.95,326.75 L587.15,320.77 L587.35,313.84 L587.55,306.44 L587.75,299.63 L587.95,294.98 L588.15,293.97 L588.35,296.94 L588.55,302.89 L588.75,310.18 L588.95,317.44 L589.15,323.94 L589.35,329.42 L589.55,333.91 L589.75,337.54 L589.95,340.48 L590.15,342.86 L590.35,344.79 L590.55,346.38 L590.75,347.69 L590.95,348.78 L591.15,349.70 L591.35,350.47 L591.55,351.13 L591.75,351.70 L591.95,352.19 L592.15,352.62 L592.35,352.99 L592.55,353.31 L592.75,353.60 L592.95,353.85 L593.15,354.07 L593.35,354.27 L593.55,354.45 L593.75,354.61 L593.95,354.75 L594.15,354.88 L594.35,355.00 L594.55,355.10 L594.75,355.19 L594.95,355.28 L595.15,355.36 L595.35,355.43 L595.55,355.49 L595.75,355.54 L595.95,355.59 L596.15,355.64 L596.35,355.68 L596.55,355.72 L596.75,355.75 L596.95,355.77 L597.15,355.80 L597.35,355.82 L597.55,355.83 L597.75,355.85 L597.95,355.86 L598.15,355.86 L598.35,355.87 L598.55,355.87 L598.75,355.87 L598.95,355.86 L599.15,355.85 L599.35,355.84 L599.55,355.82 L599.75,355.80 L599.95,355.78 L600.15,355.76 L600.35,355.73 L600.55,355.69 L600.75,355.65 L600.95,355.61 L601.15,355.56 L601.35,355.51 L601.55,355.45 L601.75,355.39 L601.95,355.32 L602.15,355.24 L602.35,355.15 L602.55,355.06 L602.75,354.95 L602.95,354.84 L603.15,354.71 L603.35,354.57 L603.55,354.41 L603.75,354.23 L603.95,354.04 L604.15,353.82 L604.35,353.57 L604.55,353.29 L604.75,352.98 L604.95,352.63 L605.15,352.22 L605.35,351.76 L605.55,351.23 L605.75,350.61 L605.95,349.89 L606.15,349.05 L606.35,348.05 L606.55,346.86 L606.75,345.43 L606.95,343.70 L607.15,341.57 L607.35,338.94 L607.55,335.66 L607.75,331.52 L607.95,326.29 L608.15,319.69 L608.35,311.46 L608.55,301.55 L608.75,290.50 L608.95,279.84 L609.15,272.29 L609.35,270.59 L609.55,275.45 L609.75,284.92 L609.95,296.03 L610.15,306.61 L610.35,315.67 L610.55,323.03 L610.75,328.89 L610.95,333.52 L611.15,337.17 L611.35,340.08 L611.55,342.42 L611.75,344.31 L611.95,345.85 L612.15,347.12 L612.35,348.17 L612.55,349.05 L612.75,349.79 L612.95,350.42 L613.15,350.94 L613.35,351.39 L613.55,351.77 L613.75,352.10 L613.95,352.37 L614.15,352.60 L614.35,352.79 L614.55,352.95 L614.75,353.07 L614.95,353.16 L615.15,353.23 L615.35,353.26 L615.55,353.27 L615.75,353.25 L615.95,353.21 L616.15,353.13 L616.35,353.02 L616.55,352.88 L616.75,352.69 L616.95,352.46 L617.15,352.17 L617.35,351.83 L617.55,351.40 L617.75,350.89 L617.95,350.27 L618.15,349.50 L618.35,348.56 L618.55,347.39 L618.75,345.93 L618.95,344.08 L619.15,341.70 L619.35,338.63 L619.55,334.59 L619.75,329.27 L619.95,322.26 L620.15,313.21 L620.35,302.23 L620.55,290.68 L620.75,281.85 L620.95,279.80 L621.15,285.69 L621.35,296.45 L621.55,308.03 L621.75,318.15 L621.95,326.19 L622.15,332.34 L622.35,337.01 L622.55,340.57 L622.75,343.31 L622.95,345.44 L623.15,347.13 L623.35,348.48 L623.55,349.57 L623.75,350.47 L623.95,351.21 L624.15,351.84 L624.35,352.36 L624.55,352.80 L624.75,353.19 L624.95,353.51 L625.15,353.80 L625.35,354.04 L625.55,354.26 L625.75,354.45 L625.95,354.61 L626.15,354.76 L626.35,354.89 L626.55,355.00 L626.75,355.10 L626.95,355.19 L627.15,355.27 L627.35,355.33 L627.55,355.39 L627.75,355.44 L627.95,355.48 L628.15,355.52 L628.35,355.55 L628.55,355.57 L628.75,355.59 L628.95,355.59 L629.15,355.60 L629.35,355.60 L629.55,355.59 L629.75,355.57 L629.95,355.55 L630.15,355.53 L630.35,355.49 L630.55,355.45 L630.75,355.40 L630.95,355.34 L631.15,355.28 L631.35,355.20 L631.55,355.11 L631.75,355.01 L631.95,354.89 L632.15,354.76 L632.35,354.61 L632.55,354.44 L632.75,354.25 L632.95,354.02 L633.15,353.77 L633.35,353.47 L633.55,353.13 L633.75,352.73 L633.95,352.26 L634.15,351.71 L634.35,351.05 L634.55,350.27 L634.75,349.31 L634.95,348.15 L635.15,346.70 L635.35,344.88 L635.55,342.55 L635.75,339.52 L635.95,335.52 L636.15,330.11 L636.35,322.66 L636.55,312.27 L636.75,297.78 L636.95,278.31 L637.15,255.15 L637.35,235.25 L637.55,230.30 L637.75,244.08 L637.95,266.94 L638.15,288.70 L638.35,305.64 L638.55,317.94 L638.75,326.73 L638.95,333.07 L639.15,337.72 L639.35,341.20 L639.55,343.86 L639.75,345.92 L639.95,347.55 L640.15,348.85 L640.35,349.91 L640.55,350.78 L640.75,351.51 L640.95,352.12 L641.15,352.63 L641.35,353.07 L641.55,353.45 L641.75,353.77 L641.95,354.06 L642.15,354.30 L642.35,354.52 L642.55,354.71 L642.75,354.88 L642.95,355.03 L643.15,355.16 L643.35,355.28 L643.55,355.38 L643.75,355.47 L643.95,355.55 L644.15,355.62 L644.35,355.69 L644.55,355.74 L644.75,355.79 L644.95,355.83 L645.15,355.87 L645.35,355.89 L645.55,355.92 L645.75,355.93 L645.95,355.94 L646.15,355.95 L646.35,355.94 L646.55,355.94 L646.75,355.92 L646.95,355.90 L647.15,355.87 L647.35,355.83 L647.55,355.79 L647.75,355.74 L647.95,355.67 L648.15,355.59 L648.35,355.50 L648.55,355.40 L648.75,355.27 L648.95,355.12 L649.15,354.95 L649.35,354.75 L649.55,354.51 L649.75,354.23 L649.95,353.89 L650.15,353.48 L650.35,352.98 L650.55,352.37 L650.75,351.60 L650.95,350.63 L651.15,349.38 L651.35,347.75 L651.55,345.55 L651.75,342.51 L651.95,338.18 L652.15,331.81 L652.35,322.09 L652.55,306.88 L652.75,283.45 L652.95,252.41 L653.15,229.37 L653.35,238.11 L653.55,268.45 L653.75,296.37 L653.95,315.40 L654.15,327.56 L654.35,335.41 L654.55,340.65 L654.75,344.28 L654.95,346.87 L655.15,348.78 L655.35,350.22 L655.55,351.33 L655.75,352.21 L655.95,352.91 L656.15,353.49 L656.35,353.96 L656.55,354.35 L656.75,354.68 L656.95,354.96 L657.15,355.20 L657.35,355.41 L657.55,355.59 L657.75,355.75 L657.95,355.89 L658.15,356.01 L658.35,356.12 L658.55,356.22 L658.75,356.31 L658.95,356.39 L659.15,356.46 L659.35,356.52 L659.55,356.58 L659.75,356.64 L659.95,356.69 L660.15,356.73 L660.35,356.78 L660.55,356.82 L660.75,356.85 L660.95,356.89 L661.15,356.92 L661.35,356.95 L661.55,356.97 L661.75,357.00 L661.95,357.02" stroke="#0000ff" stroke-dasharray="6.5 9"/>
<path d="M427.95,356.88 L428.15,356.83 L428.35,356.78 L428.55,356.72 L428.75,356.65 L428.95,356.58 L429.15,356.50 L429.35,356.40 L429.55,356.30 L429.75,356.17 L429.95,356.03 L430.15,355.87 L430.35,355.68 L430.55,355.46 L430.75,355.19 L430.95,354.87 L431.15,354.49 L431.35,354.01 L431.55,353.41 L431.75,352.65 L431.95,351.66 L432.15,350.34 L432.35,348.54 L432.55,346.01 L432.75,342.31 L432.95,336.67 L433.15,327.72 L433.35,313.16 L433.55,290.45 L433.75,263.78 L433.95,255.68 L434.15,276.64 L434.35,302.87 L434.55,321.31 L434.75,332.70 L434.95,339.76 L435.15,344.30 L435.35,347.34 L435.55,349.46 L435.75,350.99 L435.95,352.12 L436.15,352.98 L436.35,353.65 L436.55,354.17 L436.75,354.60 L436.95,354.94 L437.15,355.22 L437.35,355.46 L437.55,355.66 L437.75,355.82 L437.95,355.97 L438.15,356.09 L438.35,356.20 L438.55,356.29 L438.75,356.37 L438.95,356.44 L439.15,356.50 L439.35,356.55 L439.55,356.60 L439.75,356.64 L439.95,356.67 L440.15,356.70 L440.35,356.73 L440.55,356.75 L440.75,356.77 L440.95,356.79 L441.15,356.81 L441.35,356.82 L441.55,356.83 L441.75,356.83 L441.95,356.84 L442.15,356.84 L442.35,356.84 L442.55,356.84 L442.75,356.84 L442.95,356.84 L443.15,356.83 L443.35,356.82 L443.55,356.81 L443.75,356.80 L443.95,356.79 L444.15,356.77 L444.35,356.75 L444.55,356.73 L444.75,356.71 L444.95,356.68 L445.15,356.65 L445.35,356.62 L445.55,356.58 L445.75,356.55 L445.95,356.50 L446.15,356.45 L446.35,356.40 L446.55,356.34 L446.75,356.28 L446.95,356.20 L447.15,356.12 L447.35,356.03 L447.55,355.93 L447.75,355.82 L447.95,355.69 L448.15,355.54 L448.35,355.37 L448.55,355.18 L448.75,354.96 L448.95,354.70 L449.15,354.39 L449.35,354.04 L449.55,353.61 L449.75,353.10 L449.95,352.47 L450.15,351.70 L450.35,350.74 L450.55,349.52 L450.75,347.94 L450.95,345.85 L451.15,343.02 L451.35,339.13 L451.55,333.62 L451.75,325.72 L451.95,314.41 L452.15,299.13 L452.35,282.07 L452.55,271.26 L452.75,275.18 L452.95,290.45 L453.15,307.20 L453.35,320.50 L453.55,329.97 L453.75,336.54 L453.95,341.15 L454.15,344.44 L454.35,346.85 L454.55,348.65 L454.75,350.02 L454.95,351.09 L455.15,351.94 L455.35,352.61 L455.55,353.16 L455.75,353.61 L455.95,353.99 L456.15,354.30 L456.35,354.56 L456.55,354.78 L456.75,354.97 L456.95,355.13 L457.15,355.27 L457.35,355.38 L457.55,355.48 L457.75,355.57 L457.95,355.64 L458.15,355.70 L458.35,355.75 L458.55,355.79 L458.75,355.82 L458.95,355.85 L459.15,355.86 L459.35,355.87 L459.55,355.87 L459.75,355.87 L459.95,355.86 L460.15,355.84 L460.35,355.82 L460.55,355.79 L460.75,355.75 L460.95,355.70 L461.15,355.65 L461.35,355.58 L461.55,355.51 L461.75,355.43 L461.95,355.33 L462.15,355.23 L462.35,355.10 L462.55,354.96 L462.75,354.80 L462.95,354.62 L463.15,354.41 L463.35,354.18 L463.55,353.90 L463.75,353.58 L463.95,353.21 L464.15,352.78 L464.35,352.26 L464.55,351.65 L464.75,350.92 L464.95,350.03 L465.15,348.95 L465.35,347.60 L465.55,345.90 L465.75,343.73 L465.95,340.93 L466.15,337.23 L466.35,332.29 L466.55,325.63 L466.75,316.67 L466.95,304.93 L467.15,290.83 L467.35,277.07 L467.55,269.24 L467.75,272.01 L467.95,283.59 L468.15,298.06 L468.35,311.12 L468.55,321.43 L468.75,329.16 L468.95,334.88 L469.15,339.14 L469.35,342.34 L469.55,344.79 L469.75,346.70 L469.95,348.20 L470.15,349.40 L470.35,350.37 L470.55,351.17 L470.75,351.82 L470.95,352.37 L471.15,352.83 L471.35,353.22 L471.55,353.55 L471.75,353.84 L471.95,354.08 L472.15,354.29 L472.35,354.47 L472.55,354.63 L472.75,354.76 L472.95,354.88 L473.15,354.98 L473.35,355.06 L473.55,355.14 L473.75,355.20 L473.95,355.25 L474.15,355.29 L474.35,355.32 L474.55,355.34 L474.75,355.35 L474.95,355.36 L475.15,355.35 L475.35,355.34 L475.55,355.32 L475.75,355.30 L475.95,355.26 L476.15,355.22 L476.35,355.16 L476.55,355.10 L476.75,355.03 L476.95,354.94 L477.15,354.85 L477.35,354.73 L477.55,354.61 L477.75,354.47 L477.95,354.30 L478.15,354.12 L478.35,353.91 L478.55,353.67 L478.75,353.40 L478.95,353.09 L479.15,352.74 L479.35,352.33 L479.55,351.86 L479.75,351.31 L479.95,350.66 L480.15,349.90 L480.35,348.99 L480.55,347.90 L480.75,346.59 L480.95,344.98 L481.15,342.99 L481.35,340.51 L481.55,337.38 L481.75,333.37 L481.95,328.22 L482.15,321.56 L482.35,313.03 L482.55,302.39 L482.75,290.01 L482.95,277.54 L483.15,268.39 L483.35,266.30 L483.55,272.29 L483.75,283.62 L483.95,296.36 L484.15,307.98 L484.35,317.57 L484.55,325.12 L484.75,330.98 L484.95,335.52 L485.15,339.06 L485.35,341.85 L485.55,344.07 L485.75,345.86 L485.95,347.32 L486.15,348.52 L486.35,349.51 L486.55,350.35 L486.75,351.05 L486.95,351.65 L487.15,352.17 L487.35,352.62 L487.55,353.00 L487.75,353.34 L487.95,353.64 L488.15,353.90 L488.35,354.13 L488.55,354.33 L488.75,354.51 L488.95,354.67 L489.15,354.82 L489.35,354.95 L489.55,355.07 L489.75,355.17 L489.95,355.26 L490.15,355.35 L490.35,355.42 L490.55,355.49 L490.75,355.55 L490.95,355.61 L491.15,355.65 L491.35,355.70 L491.55,355.73 L491.75,355.77 L491.95,355.79 L492.15,355.82 L492.35,355.84 L492.55,355.85 L492.75,355.86 L492.95,355.87 L493.15,355.88 L493.35,355.88 L493.55,355.87 L493.75,355.87 L493.95,355.86 L494.15,355.84 L494.35,355.83 L494.55,355.80 L494.75,355.78 L494.95,355.75 L495.15,355.71 L495.35,355.67 L495.55,355.63 L495.75,355.58 L495.95,355.52 L496.15,355.46 L496.35,355.39 L496.55,355.31 L496.75,355.22 L496.95,355.13 L497.15,355.02 L497.35,354.90 L497.55,354.77 L497.75,354.63 L497.95,354.47 L498.15,354.28 L498.35,354.08 L498.55,353.85 L498.75,353.60 L498.95,353.31 L499.15,352.98 L499.35,352.60 L499.55,352.17 L499.75,351.67 L499.95,351.10 L500.15,350.43 L500.35,349.64 L500.55,348.71 L500.75,347.60 L500.95,346.26 L501.15,344.65 L501.35,342.66 L501.55,340.21 L501.75,337.16 L501.95,333.32 L502.15,328.48 L502.35,322.38 L502.55,314.82 L502.75,305.76 L502.95,295.70 L503.15,286.06 L503.35,279.27 L503.55,277.75 L503.75,282.13 L503.95,290.67 L504.15,300.76 L504.35,310.42 L504.55,318.75 L504.75,325.55 L504.95,330.98 L505.15,335.28 L505.35,338.69 L505.55,341.41 L505.75,343.60 L505.95,345.38 L506.15,346.84 L506.35,348.04 L506.55,349.05 L506.75,349.89 L506.95,350.60 L507.15,351.21 L507.35,351.73 L507.55,352.18 L507.75,352.56 L507.95,352.90 L508.15,353.19 L508.35,353.44 L508.55,353.67 L508.75,353.86 L508.95,354.03 L509.15,354.17 L509.35,354.30 L509.55,354.41 L509.75,354.50 L509.95,354.58 L510.15,354.65 L510.35,354.70 L510.55,354.74 L510.75,354.76 L510.95,354.78 L511.15,354.78 L511.35,354.77 L511.55,354.75 L511.75,354.72 L511.95,354.67 L512.15,354.61 L512.35,354.54 L512.55,354.45 L512.75,354.33 L512.95,354.20 L513.15,354.05 L513.35,353.87 L513.55,353.66 L513.75,353.41 L513.95,353.12 L514.15,352.78 L514.35,352.38 L514.55,351.91 L514.75,351.35 L514.95,350.68 L515.15,349.88 L515.35,348.91 L515.55,347.73 L515.75,346.28 L515.95,344.49 L516.15,342.25 L516.35,339.46 L516.55,335.97 L516.75,331.65 L516.95,326.45 L517.15,320.54 L517.35,314.49 L517.55,309.48 L517.75,306.95 L517.95,307.83 L518.15,311.79 L518.35,317.52 L518.55,323.62 L518.75,329.23 L518.95,334.01 L519.15,337.91 L519.35,341.06 L519.55,343.57 L519.75,345.59 L519.95,347.22 L520.15,348.55 L520.35,349.64 L520.55,350.54 L520.75,351.29 L520.95,351.92 L521.15,352.45 L521.35,352.91 L521.55,353.30 L521.75,353.64 L521.95,353.93 L522.15,354.19 L522.35,354.42 L522.55,354.62 L522.75,354.79 L522.95,354.95 L523.15,355.09 L523.35,355.21 L523.55,355.32 L523.75,355.42 L523.95,355.51 L524.15,355.59 L524.35,355.66 L524.55,355.72 L524.75,355.78 L524.95,355.83 L525.15,355.87 L525.35,355.92 L525.55,355.95 L525.75,355.98 L525.95,356.01 L526.15,356.03 L526.35,356.05 L526.55,356.07 L526.75,356.08 L526.95,356.09 L527.15,356.10 L527.35,356.10 L527.55,356.10 L527.75,356.10 L527.95,356.09 L528.15,356.08 L528.35,356.07 L528.55,356.06 L528.75,356.04 L528.95,356.02 L529.15,355.99 L529.35,355.96 L529.55,355.93 L529.75,355.89 L529.95,355.84 L530.15,355.79 L530.35,355.74 L530.55,355.68 L530.75,355.61 L530.95,355.53 L531.15,355.45 L531.35,355.36 L531.55,355.25 L531.75,355.14 L531.95,355.01 L532.15,354.86 L532.35,354.70 L532.55,354.52 L532.75,354.31 L532.95,354.07 L533.15,353.81 L533.35,353.50 L533.55,353.15 L533.75,352.75 L533.95,352.28 L534.15,351.73 L534.35,351.09 L534.55,350.33 L534.75,349.42 L534.95,348.32 L535.15,346.99 L535.35,345.36 L535.55,343.35 L535.75,340.84 L535.95,337.72 L536.15,333.82 L536.35,329.01 L536.55,323.22 L536.75,316.63 L536.95,309.89 L537.15,304.30 L537.35,301.48 L537.55,302.45 L537.75,306.84 L537.95,313.19 L538.15,319.96 L538.35,326.19 L538.55,331.49 L538.75,335.82 L538.95,339.30 L539.15,342.09 L539.35,344.32 L539.55,346.12 L539.75,347.58 L539.95,348.78 L540.15,349.76 L540.35,350.58 L540.55,351.27 L540.75,351.85 L540.95,352.35 L541.15,352.77 L541.35,353.13 L541.55,353.44 L541.75,353.71 L541.95,353.95 L542.15,354.15 L542.35,354.32 L542.55,354.48 L542.75,354.61 L542.95,354.73 L543.15,354.83 L543.35,354.91 L543.55,354.98 L543.75,355.04 L543.95,355.09 L544.15,355.13 L544.35,355.16 L544.55,355.18 L544.75,355.19 L544.95,355.19 L545.15,355.18 L545.35,355.17 L545.55,355.14 L545.75,355.11 L545.95,355.06 L546.15,355.00 L546.35,354.93 L546.55,354.85 L546.75,354.76 L546.95,354.65 L547.15,354.52 L547.35,354.37 L547.55,354.21 L547.75,354.01 L547.95,353.79 L548.15,353.53 L548.35,353.24 L548.55,352.90 L548.75,352.50 L548.95,352.04 L549.15,351.49 L549.35,350.85 L549.55,350.08 L549.75,349.17 L549.95,348.06 L550.15,346.72 L550.35,345.07 L550.55,343.03 L550.75,340.49 L550.95,337.32 L551.15,333.36 L551.35,328.47 L551.55,322.58 L551.75,315.88 L551.95,309.04 L552.15,303.35 L552.35,300.49 L552.55,301.48 L552.75,305.96 L552.95,312.43 L553.15,319.34 L553.35,325.69 L553.55,331.09 L553.75,335.51 L553.95,339.06 L554.15,341.91 L554.35,344.19 L554.55,346.03 L554.75,347.53 L554.95,348.76 L555.15,349.78 L555.35,350.62 L555.55,351.34 L555.75,351.94 L555.95,352.46 L556.15,352.90 L556.35,353.28 L556.55,353.61 L556.75,353.90 L556.95,354.16 L557.15,354.38 L557.35,354.58 L557.55,354.76 L557.75,354.91 L557.95,355.05 L558.15,355.18 L558.35,355.29 L558.55,355.39 L558.75,355.48 L558.95,355.56 L559.15,355.64 L559.35,355.70 L559.55,355.76 L559.75,355.82 L559.95,355.87 L560.15,355.91 L560.35,355.95 L560.55,355.98 L560.75,356.01 L560.95,356.04 L561.15,356.06 L561.35,356.08 L561.55,356.09 L561.75,356.10 L561.95,356.11 L562.15,356.12 L562.35,356.12 L562.55,356.12 L562.75,356.12 L562.95,356.11 L563.15,356.10 L563.35,356.09 L563.55,356.07 L563.75,356.05 L563.95,356.03 L564.15,356.00 L564.35,355.97 L564.55,355.94 L564.75,355.90 L564.95,355.85 L565.15,355.80 L565.35,355.75 L565.55,355.68 L565.75,355.61 L565.95,355.53 L566.15,355.45 L566.35,355.35 L566.55,355.24 L566.75,355.11 L566.95,354.98 L567.15,354.82 L567.35,354.64 L567.55,354.44 L567.75,354.22 L567.95,353.96 L568.15,353.66 L568.35,353.31 L568.55,352.91 L568.75,352.45 L568.95,351.90 L569.15,351.25 L569.35,350.47 L569.55,349.53 L569.75,348.40 L569.95,347.01 L570.15,345.30 L570.35,343.16 L570.55,340.50 L570.75,337.18 L570.95,333.08 L571.15,328.15 L571.35,322.54 L571.55,316.80 L571.75,312.04 L571.95,309.63 L572.15,310.45 L572.35,314.19 L572.55,319.59 L572.75,325.35 L572.95,330.64 L573.15,335.14 L573.35,338.82 L573.55,341.78 L573.75,344.14 L573.95,346.04 L574.15,347.56 L574.35,348.79 L574.55,349.80 L574.75,350.63 L574.95,351.32 L575.15,351.90 L575.35,352.38 L575.55,352.79 L575.75,353.14 L575.95,353.43 L576.15,353.68 L576.35,353.90 L576.55,354.08 L576.75,354.23 L576.95,354.37 L577.15,354.48 L577.35,354.57 L577.55,354.65 L577.75,354.71 L577.95,354.75 L578.15,354.78 L578.35,354.80 L578.55,354.81 L578.75,354.81 L578.95,354.80 L579.15,354.77 L579.35,354.73 L579.55,354.68 L579.75,354.62 L579.95,354.54 L580.15,354.45 L580.35,354.34 L580.55,354.22 L580.75,354.08 L580.95,353.91 L581.15,353.72 L581.35,353.51 L581.55,353.26 L581.75,352.98 L581.95,352.66 L582.15,352.29 L582.35,351.86 L582.55,351.36 L582.75,350.78 L582.95,350.11 L583.15,349.31 L583.35,348.36 L583.55,347.23 L583.75,345.87 L583.95,344.22 L584.15,342.19 L584.35,339.68 L584.55,336.55 L584.75,332.62 L584.95,327.65 L585.15,321.40 L585.35,313.63 L585.55,304.33 L585.75,294.00 L585.95,284.10 L586.15,277.14 L586.35,275.58 L586.55,280.09 L586.75,288.88 L586.95,299.25 L587.15,309.19 L587.35,317.75 L587.55,324.75 L587.75,330.34 L587.95,334.77 L588.15,338.29 L588.35,341.09 L588.55,343.36 L588.75,345.19 L588.95,346.70 L589.15,347.95 L589.35,349.00 L589.55,349.88 L589.75,350.62 L589.95,351.26 L590.15,351.81 L590.35,352.28 L590.55,352.70 L590.75,353.06 L590.95,353.38 L591.15,353.66 L591.35,353.91 L591.55,354.13 L591.75,354.33 L591.95,354.50 L592.15,354.66 L592.35,354.80 L592.55,354.93 L592.75,355.05 L592.95,355.15 L593.15,355.25 L593.35,355.33 L593.55,355.41 L593.75,355.48 L593.95,355.54 L594.15,355.59 L594.35,355.64 L594.55,355.69 L594.75,355.73 L594.95,355.76 L595.15,355.79 L595.35,355.82 L595.55,355.84 L595.75,355.86 L595.95,355.87 L596.15,355.88 L596.35,355.89 L596.55,355.89 L596.75,355.89 L596.95,355.89 L597.15,355.88 L597.35,355.87 L597.55,355.85 L597.75,355.83 L597.95,355.81 L598.15,355.78 L598.35,355.75 L598.55,355.71 L598.75,355.67 L598.95,355.62 L599.15,355.57 L599.35,355.51 L599.55,355.44 L599.75,355.36 L599.95,355.28 L600.15,355.18 L600.35,355.08 L600.55,354.96 L600.75,354.83 L600.95,354.68 L601.15,354.52 L601.35,354.33 L601.55,354.13 L601.75,353.89 L601.95,353.62 L602.15,353.32 L602.35,352.97 L602.55,352.58 L602.75,352.12 L602.95,351.58 L603.15,350.95 L603.35,350.22 L603.55,349.34 L603.75,348.29 L603.95,347.02 L604.15,345.47 L604.35,343.55 L604.55,341.16 L604.75,338.14 L604.95,334.28 L605.15,329.32 L605.35,322.91 L605.55,314.69 L605.75,304.45 L605.95,292.53 L606.15,280.52 L606.35,271.71 L606.55,269.69 L606.75,275.46 L606.95,286.36 L607.15,298.63 L607.35,309.81 L607.55,319.04 L607.75,326.31 L607.95,331.94 L608.15,336.31 L608.35,339.72 L608.55,342.40 L608.75,344.54 L608.95,346.25 L609.15,347.65 L609.35,348.80 L609.55,349.76 L609.75,350.56 L609.95,351.23 L610.15,351.81 L610.35,352.30 L610.55,352.72 L610.75,353.09 L610.95,353.41 L611.15,353.69 L611.35,353.93 L611.55,354.14 L611.75,354.33 L611.95,354.50 L612.15,354.65 L612.35,354.77 L612.55,354.89 L612.75,354.99 L612.95,355.08 L613.15,355.15 L613.35,355.22 L613.55,355.27 L613.75,355.32 L613.95,355.36 L614.15,355.39 L614.35,355.41 L614.55,355.43 L614.75,355.43 L614.95,355.43 L615.15,355.42 L615.35,355.41 L615.55,355.38 L615.75,355.35 L615.95,355.30 L616.15,355.25 L616.35,355.19 L616.55,355.11 L616.75,355.02 L616.95,354.92 L617.15,354.80 L617.35,354.66 L617.55,354.50 L617.75,354.31 L617.95,354.09 L618.15,353.84 L618.35,353.54 L618.55,353.20 L618.75,352.79 L618.95,352.31 L619.15,351.73 L619.35,351.04 L619.55,350.19 L619.75,349.15 L619.95,347.86 L620.15,346.24 L620.35,344.16 L620.55,341.47 L620.75,337.92 L620.95,333.18 L621.15,326.77 L621.35,318.15 L621.55,306.87 L621.75,293.30 L621.95,280.06 L622.15,272.54 L622.35,275.21 L622.55,286.37 L622.75,300.30 L622.95,312.88 L623.15,322.82 L623.35,330.27 L623.55,335.78 L623.75,339.89 L623.95,342.98 L624.15,345.35 L624.35,347.19 L624.55,348.65 L624.75,349.81 L624.95,350.76 L625.15,351.53 L625.35,352.17 L625.55,352.71 L625.75,353.16 L625.95,353.55 L626.15,353.88 L626.35,354.16 L626.55,354.41 L626.75,354.62 L626.95,354.81 L627.15,354.97 L627.35,355.12 L627.55,355.24 L627.75,355.35 L627.95,355.45 L628.15,355.53 L628.35,355.61 L628.55,355.67 L628.75,355.73 L628.95,355.78 L629.15,355.82 L629.35,355.85 L629.55,355.87 L629.75,355.89 L629.95,355.90 L630.15,355.91 L630.35,355.91 L630.55,355.90 L630.75,355.89 L630.95,355.87 L631.15,355.84 L631.35,355.80 L631.55,355.76 L631.75,355.70 L631.95,355.63 L632.15,355.55 L632.35,355.46 L632.55,355.35 L632.75,355.23 L632.95,355.08 L633.15,354.90 L633.35,354.70 L633.55,354.46 L633.75,354.17 L633.95,353.83 L634.15,353.42 L634.35,352.92 L634.55,352.31 L634.75,351.56 L634.95,350.61 L635.15,349.40 L635.35,347.83 L635.55,345.75 L635.75,342.95 L635.95,339.06 L636.15,333.57 L636.35,325.68 L636.55,314.38 L636.75,299.12 L636.95,282.07 L637.15,271.27 L637.35,275.21 L637.55,290.49 L637.75,307.25 L637.95,320.56 L638.15,330.04 L638.35,336.63 L638.55,341.25 L638.75,344.56 L638.95,346.98 L639.15,348.79 L639.35,350.18 L639.55,351.26 L639.75,352.12 L639.95,352.81 L640.15,353.38 L640.35,353.85 L640.55,354.24 L640.75,354.56 L640.95,354.84 L641.15,355.08 L641.35,355.29 L641.55,355.47 L641.75,355.63 L641.95,355.76 L642.15,355.89 L642.35,355.99 L642.55,356.09 L642.75,356.18 L642.95,356.25 L643.15,356.32 L643.35,356.38 L643.55,356.44 L643.75,356.49 L643.95,356.54 L644.15,356.58 L644.35,356.62 L644.55,356.65 L644.75,356.68 L644.95,356.71 L645.15,356.73 L645.35,356.75 L645.55,356.77 L645.75,356.79 L645.95,356.81 L646.15,356.82 L646.35,356.83 L646.55,356.84 L646.75,356.85 L646.95,356.85 L647.15,356.86 L647.35,356.86 L647.55,356.86 L647.75,356.86 L647.95,356.86 L648.15,356.85 L648.35,356.84 L648.55,356.83 L648.75,356.82 L648.95,356.81 L649.15,356.79 L649.35,356.77 L649.55,356.74 L649.75,356.72 L649.95,356.68 L650.15,356.65 L650.35,356.61 L650.55,356.56 L650.75,356.51 L650.95,356.44 L651.15,356.37 L651.35,356.29 L651.55,356.20 L651.75,356.09 L651.95,355.96 L652.15,355.81 L652.35,355.64 L652.55,355.43 L652.75,355.18 L652.95,354.88 L653.15,354.52 L653.35,354.07 L653.55,353.50 L653.75,352.77 L653.95,351.83 L654.15,350.57 L654.35,348.85 L654.55,346.43 L654.75,342.88 L654.95,337.47 L655.15,328.89 L655.35,314.91 L655.55,293.11 L655.75,267.52 L655.95,259.74 L656.15,279.87 L656.35,305.06 L656.55,322.77 L656.75,333.72 L656.95,340.51 L657.15,344.87 L657.35,347.80 L657.55,349.84 L657.75,351.31 L657.95,352.40 L658.15,353.23 L658.35,353.88 L658.55,354.39 L658.75,354.80 L658.95,355.14 L659.15,355.42 L659.35,355.66 L659.55,355.85 L659.75,356.02 L659.95,356.17 L660.15,356.29 L660.35,356.40 L660.55,356.50 L660.75,356.58 L660.95,356.66 L661.15,356.72 L661.35,356.78 L661.55,356.84 L661.75,356.88 L661.95,356.93" stroke="#00ff00" stroke-dasharray="18.6 6.4 3.2 6"/>
</g>
<rect x="427.95" y="210.90" width="234.15" height="146.80" fill="none" stroke="#000" stroke-width="1.5"/>
<g stroke="#000" stroke-linecap="square" fill="none">
<line x1="89.35" y1="7.15" x2="684.15" y2="7.15" stroke-width="1.5"/>
<line x1="89.35" y1="421.6" x2="684.15" y2="421.6" stroke-width="1.7"/>
<line x1="89.35" y1="7.15" x2="89.35" y2="421.6" stroke-width="1.4"/>
<line x1="684.15" y1="7.15" x2="684.15" y2="421.6" stroke-width="1.6"/>
</g>
<g fill="none" stroke-width="1.8">
<line x1="364.7" y1="23.9" x2="421" y2="23.9" stroke="#ff0000"/>
<line x1="364.7" y1="44.7" x2="421" y2="44.7" stroke="#0000ff" stroke-dasharray="6.5 9"/>
<line x1="364.7" y1="65.6" x2="421" y2="65.6" stroke="#00ff00" stroke-dasharray="18.6 6.4 3.2 6"/>
</g>
<text x="332.8" y="28.40">P<tspan dy="6.7" style="font-size:16px">1</tspan></text>
<text x="332.8" y="49.25">P<tspan dy="6.7" style="font-size:16px">2</tspan></text>
<text x="332.8" y="70.10">P<tspan dy="6.7" style="font-size:16px">3</tspan></text>
<text x="244.40" y="35.10" text-anchor="start" >W=26</text>
<text x="244.40" y="61.90" text-anchor="start" >T=0.001</text>
<text transform="translate(15.3,262) rotate(-90)" style="letter-spacing:0.05px"><tspan font-style="italic">I</tspan> (arb.units)</text>
<text transform="translate(390.8,296) rotate(-90)">TP</text>
<text x="374.4" y="478.3" font-style="italic" style="font-size:19px;letter-spacing:0.5px">V/t<tspan dy="6" style="font-size:16px">p</tspan></text>
</svg></body></html>
